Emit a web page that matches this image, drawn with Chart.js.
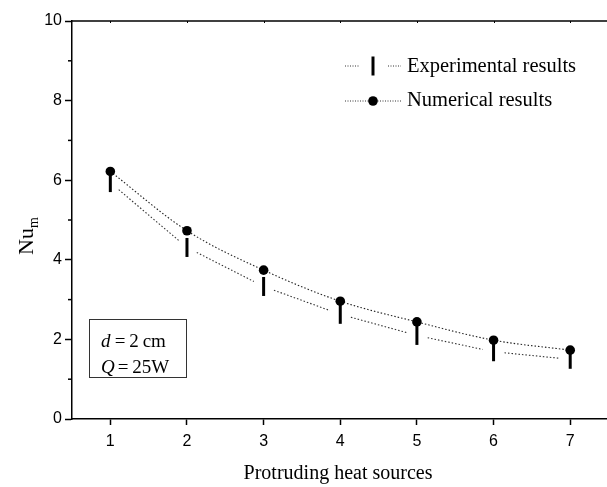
<!DOCTYPE html>
<html>
<head>
<meta charset="utf-8">
<script src="https://cdn.jsdelivr.net/npm/chart.js@4.4.1/dist/chart.umd.min.js"></script>
<style>
  html, body { margin: 0; padding: 0; background: #fff; }
  #wrap { width: 607px; height: 487px; position: relative; }
</style>
</head>
<body>
<div id="wrap"><canvas id="chart" width="607" height="487"></canvas></div>
<script>
// data
const sources = [1, 2, 3, 4, 5, 6, 7];
const experimental = [5.94, 4.31, 3.33, 2.63, 2.10, 1.69, 1.50];
const numerical = [6.22, 4.73, 3.74, 2.96, 2.44, 1.98, 1.73];
const yTicks = [0, 2, 4, 6, 8, 10];
const yMinor = [1, 3, 5, 7, 9];
const legendLabels = ['Experimental results', 'Numerical results'];

const serif = '"Liberation Serif", "Times New Roman", serif';
const sans = '"Liberation Sans", Arial, sans-serif';

// extra drawing: frame, minor ticks, experimental dotted segments, legend, note box, titles
const extras = {
    id: 'extras',
    beforeDatasetsDraw(chart) {
        const ctx = chart.ctx;
        const meta = chart.getDatasetMeta(0);
        const gap = 11;
        ctx.save();
        ctx.strokeStyle = '#333';
        ctx.lineWidth = 1.1;
        ctx.setLineDash([1.5, 2]);
        for (let i = 0; i < meta.data.length - 1; i++) {
            const a = meta.data[i], b = meta.data[i + 1];
            const dx = b.x - a.x, dy = b.y - a.y;
            const len = Math.sqrt(dx * dx + dy * dy);
            const ux = dx / len, uy = dy / len;
            ctx.beginPath();
            ctx.moveTo(a.x + ux * gap, a.y + uy * gap);
            ctx.lineTo(b.x - ux * gap, b.y - uy * gap);
            ctx.stroke();
        }
        ctx.restore();
    },
    afterDraw(chart) {
        const ctx = chart.ctx;
        const area = chart.chartArea;
        const x = chart.scales.x, y = chart.scales.y;
        ctx.save();

        // top frame line with tiny ticks
        ctx.strokeStyle = '#000';
        ctx.lineWidth = 1.5;
        ctx.setLineDash([]);
        ctx.beginPath();
        ctx.moveTo(area.left, area.top);
        ctx.lineTo(area.right, area.top);
        ctx.stroke();
        ctx.lineWidth = 1;
        sources.forEach(v => {
            const px = Math.round(x.getPixelForValue(v)) + 0.5;
            ctx.beginPath();
            ctx.moveTo(px, area.top);
            ctx.lineTo(px, area.top + 2);
            ctx.stroke();
        });

        // minor y ticks
        ctx.lineWidth = 1.5;
        yMinor.forEach(v => {
            const py = y.getPixelForValue(v);
            ctx.beginPath();
            ctx.moveTo(area.left - 4, py);
            ctx.lineTo(area.left, py);
            ctx.stroke();
        });

        // legend
        const lx = 345, ly1 = 66, ly2 = 101;
        ctx.strokeStyle = '#333';
        ctx.lineWidth = 1;
        ctx.setLineDash([1, 1.5]);
        ctx.beginPath();
        ctx.moveTo(lx, ly1); ctx.lineTo(lx + 14, ly1);
        ctx.moveTo(lx + 43, ly1); ctx.lineTo(lx + 56, ly1);
        ctx.moveTo(lx, ly2); ctx.lineTo(lx + 56, ly2);
        ctx.stroke();
        ctx.setLineDash([]);
        ctx.strokeStyle = '#000';
        ctx.lineWidth = 3;
        ctx.beginPath();
        ctx.moveTo(lx + 28, ly1 - 9.5);
        ctx.lineTo(lx + 28, ly1 + 9.5);
        ctx.stroke();
        ctx.fillStyle = '#000';
        ctx.beginPath();
        ctx.arc(lx + 28, ly2, 4.8, 0, Math.PI * 2);
        ctx.fill();
        ctx.font = '20.5px ' + serif;
        ctx.textBaseline = 'middle';
        ctx.textAlign = 'left';
        ctx.fillText(legendLabels[0], 407, ly1 + 1);
        ctx.fillText(legendLabels[1], 407, ly2);

        // note box
        ctx.strokeStyle = '#333';
        ctx.lineWidth = 1;
        ctx.strokeRect(89.5, 319.5, 97, 58);
        ctx.textBaseline = 'alphabetic';
        ctx.font = 'italic 19px ' + serif;
        ctx.fillText('d', 101, 347);
        ctx.fillText('Q', 101, 373);
        ctx.font = '19px ' + serif;
        ctx.fillText('\u2009=\u20092\u2009cm', 111, 347);
        ctx.fillText('\u2009=\u200925W', 114, 373);

        // axis titles
        ctx.font = '20px ' + serif;
        ctx.textAlign = 'center';
        ctx.fillText('Protruding heat sources', 338, 479);

        ctx.translate(33, 255);
        ctx.rotate(-Math.PI / 2);
        ctx.textAlign = 'left';
        ctx.font = '22px ' + serif;
        ctx.fillText('Nu', 0, 0);
        const w = ctx.measureText('Nu').width;
        ctx.font = '14px ' + serif;
        ctx.fillText('m', w, 5);
        ctx.restore();
    }
};

new Chart(document.getElementById('chart'), {
    type: 'line',
    data: {
        datasets: [
            {
                label: legendLabels[0],
                data: sources.map((s, i) => ({ x: s, y: experimental[i] })),
                showLine: false,
                pointStyle: 'line',
                rotation: 90,
                pointRadius: 9.5,
                pointHoverRadius: 9.5,
                pointBorderWidth: 3,
                pointBorderColor: '#000',
                borderColor: '#000',
                order: 2
            },
            {
                label: legendLabels[1],
                data: sources.map((s, i) => ({ x: s, y: numerical[i] })),
                borderColor: '#222',
                borderWidth: 1.1,
                borderDash: [1.5, 2],
                cubicInterpolationMode: 'monotone',
                pointStyle: 'circle',
                pointRadius: 4.8,
                pointBackgroundColor: '#000',
                pointBorderColor: '#000',
                pointBorderWidth: 0,
                order: 1
            }
        ]
    },
    options: {
        responsive: false,
        animation: false,
        layout: { autoPadding: false, padding: { top: 21, left: 0, right: 0, bottom: 0 } },
        plugins: {
            legend: { display: false },
            tooltip: { enabled: false }
        },
        scales: {
            x: {
                type: 'linear',
                min: 0.5,
                max: 7.48,
                afterFit: scale => {
                    scale.height = 68;
                    scale.paddingLeft = 0;
                    scale.paddingRight = 0;
                },
                afterBuildTicks: scale => { scale.ticks = sources.map(v => ({ value: v })); },
                grid: { drawOnChartArea: false, tickLength: 6, tickWidth: 1.5, tickColor: '#000' },
                border: { color: '#000', width: 1.5 },
                ticks: { color: '#000', font: { family: sans, size: 16 }, padding: 7, maxRotation: 0 }
            },
            y: {
                min: 0,
                max: 10,
                afterFit: scale => {
                    scale.width = 72;
                    scale.paddingTop = 0;
                    scale.paddingBottom = 0;
                },
                afterBuildTicks: scale => { scale.ticks = yTicks.map(v => ({ value: v })); },
                grid: { drawOnChartArea: false, tickLength: 7, tickWidth: 1.5, tickColor: '#000' },
                border: { color: '#000', width: 1.5 },
                ticks: { color: '#000', font: { family: sans, size: 16 }, padding: 3 }
            }
        }
    },
    plugins: [extras]
});
</script>
</body>
</html>
